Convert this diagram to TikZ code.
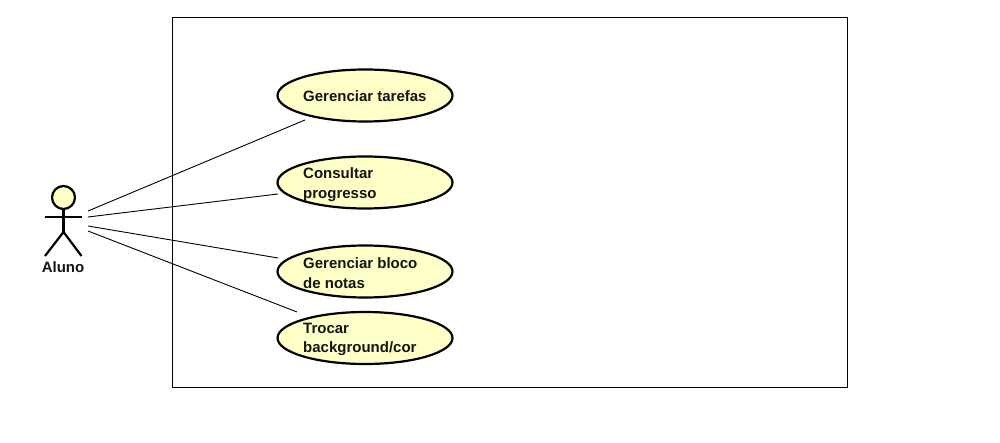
\documentclass[tikz,border=0pt]{standalone}
\usepackage{fontspec}
\setmainfont{Liberation Sans}
\usetikzlibrary{shapes.geometric}
\definecolor{ucfill}{HTML}{FFFFC8}
\tikzset{
  usecase/.style={ellipse,draw=black,line width=2.2pt,fill=ucfill,minimum width=175pt,minimum height=52pt,inner sep=0pt,outer sep=0pt},
  uclabel/.style={anchor=west,font=\fontsize{15}{19.5}\selectfont\bfseries,align=left,inner sep=0pt,text=black!92},
  assoc/.style={draw=black,line width=0.9pt},
  actorline/.style={draw=black,line width=2.2pt},
  frame/.style={draw=black,line width=0.8pt}
}
\begin{document}
\begin{tikzpicture}[x=1pt,y=-1pt]
\useasboundingbox (0,0) rectangle (1000,443);
\node[frame,minimum width=675pt,minimum height=370pt,inner sep=0pt,outer sep=0pt] (boundary) at (510,202.5) {};

\node[usecase] (uc1) at (365,95.5) {};
\node[usecase] (uc2) at (365,182.5) {};
\node[usecase] (uc3) at (365,271.5) {};
\node[usecase] (uc4) at (365,338) {};
\node[uclabel] (t1) at (303,96) {Gerenciar tarefas};
\node[uclabel] (t2) at (303,184.5) {Consultar\\progresso};
\node[uclabel] (t3) at (303,273) {Gerenciar bloco\\de notas};
\node[uclabel] (t4) at (303,339.5) {Trocar\\background/cor};

% actor
\node[circle,draw=black,line width=2.2pt,fill=ucfill,minimum size=23pt,inner sep=0pt,outer sep=0pt] (head) at (63.5,197.5) {};
\coordinate (hip) at (63.5,232);
\coordinate (handL) at (44.5,217);
\coordinate (handR) at (82,217);
\coordinate (footL) at (45,256);
\coordinate (footR) at (81.5,256);
\draw[actorline] (head.south) -- (hip);
\draw[actorline] (handL) -- (handR);
\draw[actorline] (footL) -- (hip) -- (footR);
\node[font=\fontsize{15}{16}\selectfont\bfseries,inner sep=0pt,text=black!92] (actorname) at (63,267) {Aluno};

% associations
\coordinate (a1) at (88,211);
\coordinate (a2) at (88,217);
\coordinate (a3) at (88,226);
\coordinate (a4) at (88,231);
\coordinate (b1) at (305,120);
\coordinate (b2) at (278,194);
\coordinate (b3) at (278,258);
\coordinate (b4) at (297,312);
\draw[assoc] (a1) -- (b1);
\draw[assoc] (a2) -- (b2);
\draw[assoc] (a3) -- (b3);
\draw[assoc] (a4) -- (b4);
\end{tikzpicture}
\end{document}
